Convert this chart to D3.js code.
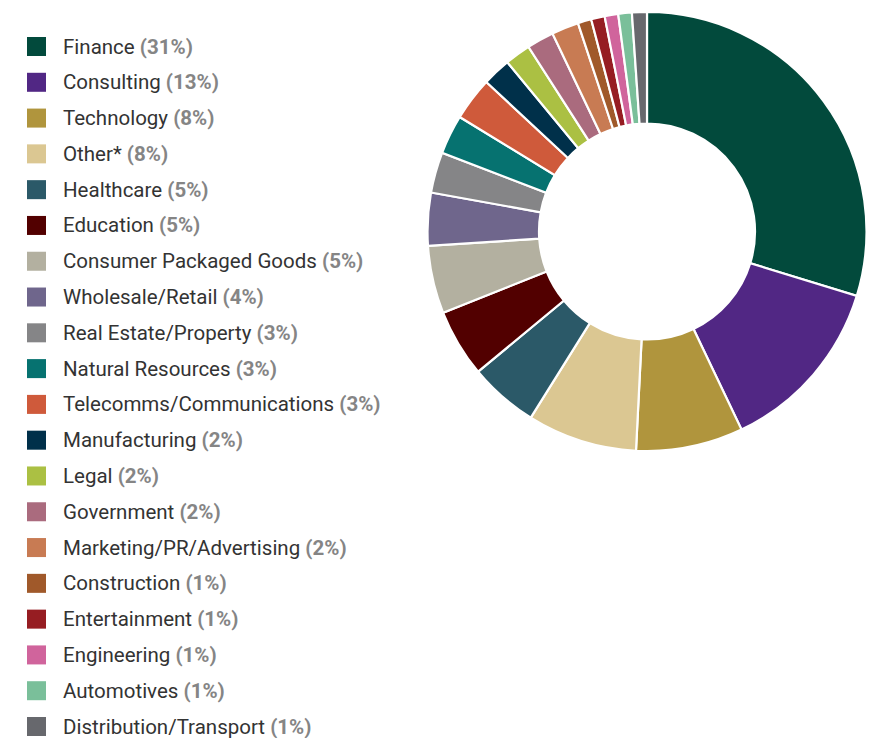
<!DOCTYPE html>
<html>
<head>
<meta charset="utf-8">
<script src="https://cdn.jsdelivr.net/npm/d3@7"></script>
<style>
  body { margin: 0; background: #fff; }
  svg { display: block; }
</style>
</head>
<body>
<script>
var w = 886;
var h = 738;

// industry names, share labels from the legend, slice sizes
var categories = ["Finance", "Consulting", "Technology", "Other*", "Healthcare", "Education",
                  "Consumer Packaged Goods", "Wholesale/Retail", "Real Estate/Property",
                  "Natural Resources", "Telecomms/Communications", "Manufacturing", "Legal",
                  "Government", "Marketing/PR/Advertising", "Construction", "Entertainment",
                  "Engineering", "Automotives", "Distribution/Transport"];
var pctLabels = [31, 13, 8, 8, 5, 5, 5, 4, 3, 3, 3, 2, 2, 2, 2, 1, 1, 1, 1, 1];
var values = [29.8, 13.2, 7.9, 8.1, 5.1, 5.0, 5.0, 3.9, 3.0, 2.9, 3.2, 2.1, 1.9, 2.0, 2.0,
              1.0, 1.0, 1.0, 1.0, 1.1];
var colors = ["#024a3c", "#512784", "#b0953d", "#dbc792", "#2b5968", "#520000", "#b3b0a0",
              "#6f668c", "#858587", "#067270", "#cf5a3b", "#00304a", "#abc043", "#aa6b7e",
              "#c87b53", "#a0592a", "#961d22", "#d0649c", "#7abf9a", "#67686d"];

var svg = d3.select("body")
            .append("svg")
            .attr("width", w)
            .attr("height", h);

// donut
var cx = 647, cy = 231.5;
var outerR = 219.5, innerR = 108;

var pie = d3.pie()
            .sort(null)
            .value(function (d) { return d; });

var arc = d3.arc()
            .innerRadius(innerR)
            .outerRadius(outerR);

var color = d3.scaleOrdinal()
              .domain(d3.range(categories.length))
              .range(colors);

svg.append("g")
   .attr("transform", "translate(" + cx + "," + cy + ")")
   .selectAll("path")
   .data(pie(values))
   .enter()
   .append("path")
   .attr("d", arc)
   .attr("fill", function (d, i) { return color(i); })
   .attr("stroke", "#fff")
   .attr("stroke-width", 2.2)
   .attr("stroke-linejoin", "miter");

// legend
var rowY = d3.scalePoint()
             .domain(d3.range(categories.length))
             .range([46.5, 726.5]);

var legend = svg.append("g")
                .selectAll("g")
                .data(categories)
                .enter()
                .append("g")
                .attr("transform", function (d, i) {
                    return "translate(0," + rowY(i) + ")";
                });

legend.append("rect")
      .attr("x", 27)
      .attr("y", -9.5)
      .attr("width", 19)
      .attr("height", 19)
      .attr("fill", function (d, i) { return color(i); });

var label = legend.append("text")
                  .attr("x", 63)
                  .attr("y", 7)
                  .style("font-family", "Roboto, sans-serif")
                  .style("font-size", "20.5px");

label.append("tspan")
     .attr("fill", "#333333")
     .text(function (d) { return d + " "; });

label.append("tspan")
     .attr("fill", "#858585")
     .style("font-weight", "bold")
     .text(function (d, i) { return "(" + pctLabels[i] + "%)"; });
</script>
</body>
</html>
